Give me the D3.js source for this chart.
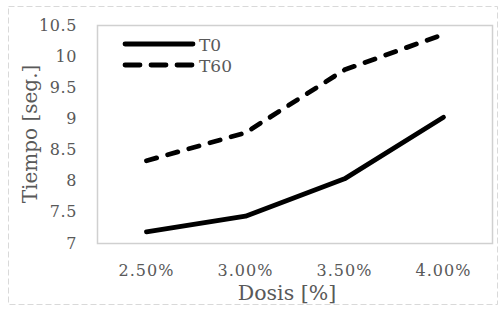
<!DOCTYPE html>
<html lang="en">
  <head>
    <meta charset="UTF-8" />
    <script src="https://d3js.org/d3.v7.min.js"></script>
    <style>
      body { margin: 0; background: #fff; }
    </style>
  </head>
  <body>
    <script>
      var width = 502,
        height = 309;

      // donnees
      var dosis = ["2.50%", "3.00%", "3.50%", "4.00%"];
      var t0 = [7.18, 7.43, 8.03, 9.02];
      var t60 = [8.32, 8.77, 9.78, 10.35];
      var yTicks = [7, 7.5, 8, 8.5, 9, 9.5, 10, 10.5];
      var series = [
        { name: "T0", values: t0, dash: null, legendDash: null },
        { name: "T60", values: t60, dash: "10.5,11.5", legendDash: "15,11" }
      ];

      var margin = { top: 25, right: 9, bottom: 66, left: 97 };
      var font = "'DejaVu Serif', 'Liberation Serif', serif";
      var grey = "#595959";

      var svg = d3
        .select("body")
        .append("svg")
        .attr("width", width)
        .attr("height", height);

      // cadre exterieur pointille
      svg
        .append("rect")
        .attr("x", 8.5)
        .attr("y", 6.5)
        .attr("width", 489)
        .attr("height", 298)
        .attr("fill", "none")
        .attr("stroke", "#d9d9d9")
        .attr("stroke-dasharray", "6,3");

      var x = d3
        .scaleBand()
        .domain(dosis)
        .range([margin.left, width - margin.right]);

      var y = d3
        .scaleLinear()
        .domain([7, 10.5])
        .range([height - margin.bottom, margin.top]);

      // zone du graphique
      svg
        .append("rect")
        .attr("x", margin.left + 0.5)
        .attr("y", margin.top + 0.5)
        .attr("width", width - margin.left - margin.right - 1)
        .attr("height", height - margin.top - margin.bottom)
        .attr("fill", "none")
        .attr("stroke", "#d0d0d0")
        .attr("stroke-width", 1.5);

      var yAxis = svg
        .append("g")
        .attr("transform", "translate(" + (margin.left - 20) + ",0)")
        .call(d3.axisLeft(y).tickValues(yTicks).tickSize(0).tickFormat(d3.format("")));
      yAxis.select(".domain").remove();
      yAxis
        .selectAll("text")
        .attr("x", 0)
        .style("font-family", font)
        .style("font-size", "16px")
        .style("letter-spacing", "0.6px")
        .attr("fill", grey);

      var xAxis = svg
        .append("g")
        .attr("transform", "translate(0," + (height - margin.bottom) + ")")
        .call(d3.axisBottom(x).tickSize(0));
      xAxis.select(".domain").remove();
      xAxis
        .selectAll("text")
        .attr("y", 33)
        .attr("dy", 0)
        .style("font-family", font)
        .style("font-size", "16px")
        .style("letter-spacing", "1px")
        .attr("fill", grey);

      // titres des axes
      svg
        .append("text")
        .attr("x", 287)
        .attr("y", 300)
        .attr("text-anchor", "middle")
        .style("font-family", font)
        .style("font-size", "20.5px")
        .attr("fill", grey)
        .text("Dosis [%]");

      svg
        .append("text")
        .attr("transform", "translate(37,134) rotate(-90)")
        .attr("text-anchor", "middle")
        .style("font-family", font)
        .style("font-size", "20px")
        .attr("fill", grey)
        .text("Tiempo [seg.]");

      var line = d3
        .line()
        .x(function (d, i) {
          return x(dosis[i]) + x.bandwidth() / 2;
        })
        .y(function (d) {
          return y(d);
        });

      svg
        .selectAll(".serie")
        .data(series)
        .enter()
        .append("path")
        .attr("class", "serie")
        .attr("d", function (d) {
          return line(d.values);
        })
        .attr("fill", "none")
        .attr("stroke", "#000")
        .attr("stroke-width", 4.8)
        .attr("stroke-linecap", "round")
        .attr("stroke-linejoin", "round")
        .attr("stroke-dasharray", function (d) {
          return d.dash;
        });

      // legende
      var legend = svg
        .selectAll(".legend")
        .data(series)
        .enter()
        .append("g")
        .attr("class", "legend")
        .attr("transform", function (d, i) {
          return "translate(125," + (44 + i * 21) + ")";
        });

      legend
        .append("line")
        .attr("x1", 0)
        .attr("x2", 68)
        .attr("stroke", "#000")
        .attr("stroke-width", 4.8)
        .attr("stroke-linecap", "round")
        .attr("stroke-dasharray", function (d) {
          return d.legendDash;
        });

      legend
        .append("text")
        .attr("x", 74)
        .attr("y", 7)
        .style("font-family", font)
        .style("font-size", "17px")
        .attr("fill", grey)
        .text(function (d) {
          return d.name;
        });
    </script>
  </body>
</html>
